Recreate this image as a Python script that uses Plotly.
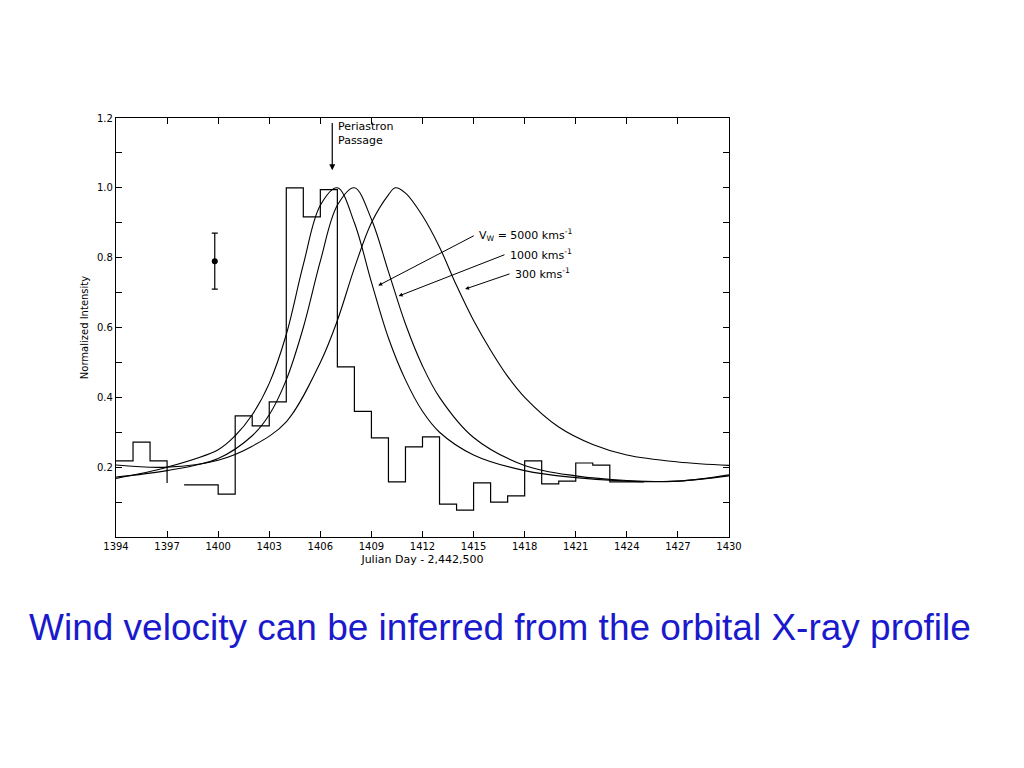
import plotly.graph_objects as go

# histogram (1-day bins), two runs of data separated by a gap
bins_a = [1394, 1395, 1396]
vals_a = [0.218, 0.272, 0.218]
end_a = 0.155  # short drop at 1397
bins_b = [1398, 1400, 1401, 1402, 1403, 1404, 1405, 1406, 1407, 1408, 1409, 1410,
          1411, 1412, 1413, 1414, 1415, 1416, 1417, 1418, 1419, 1420, 1421, 1422, 1423]
vals_b = [0.149, 0.123, 0.347, 0.318, 0.387, 1.0, 0.917, 0.995, 0.487, 0.36, 0.284, 0.158,
          0.258, 0.287, 0.094, 0.077, 0.155, 0.1, 0.118, 0.218, 0.152, 0.16, 0.212, 0.206, 0.158]
bins_b_end = 1425

# model curves
x5000 = [1394, 1397, 1400, 1401, 1402, 1403, 1404, 1405, 1406, 1407, 1408, 1409, 1410, 1411,
         1412, 1413, 1415, 1418, 1421, 1424, 1427, 1430]
y5000 = [0.168, 0.2, 0.25, 0.29, 0.35, 0.44, 0.58, 0.78, 0.95, 1.0, 0.9, 0.73, 0.57, 0.45,
         0.36, 0.3, 0.235, 0.19, 0.17, 0.16, 0.16, 0.175]
x1000 = [1394, 1397, 1400, 1402, 1403, 1404, 1405, 1406, 1407, 1408, 1409, 1410, 1411, 1412,
         1413, 1415, 1418, 1421, 1424, 1427, 1430]
y1000 = [0.172, 0.19, 0.225, 0.29, 0.35, 0.45, 0.6, 0.79, 0.95, 1.0, 0.91, 0.76, 0.61, 0.49,
         0.4, 0.285, 0.205, 0.175, 0.162, 0.16, 0.178]
x300 = [1394, 1397, 1400, 1402, 1404, 1406, 1407, 1408, 1409, 1410, 1410.4, 1411, 1412, 1413,
        1414, 1415, 1416, 1417, 1418, 1420, 1422, 1424, 1427, 1430]
y300 = [0.206, 0.2, 0.22, 0.26, 0.33, 0.5, 0.62, 0.77, 0.9, 0.98, 1.0, 0.985, 0.92, 0.83,
        0.72, 0.62, 0.535, 0.46, 0.4, 0.315, 0.265, 0.235, 0.215, 0.205]

err_x, err_y, err_d = 1399.8, 0.79, 0.08
periastron = 1406.7


def steps(lefts, vals, last_edge):
    xs, ys = [], []
    edges = lefts[1:] + [last_edge]
    for l, r, v in zip(lefts, edges, vals):
        xs += [l, r]
        ys += [v, v]
    return xs, ys


xa, ya = steps(bins_a, vals_a, 1397)
xa += [1397]; ya += [end_a]
xb, yb = steps(bins_b, vals_b, bins_b_end)

fig = go.Figure()
fig.add_trace(go.Scatter(x=xa + [None] + xb, y=ya + [None] + yb, mode="lines",
                         line=dict(color="black", width=1.2)))
for xs, ys in [(x5000, y5000), (x1000, y1000), (x300, y300)]:
    fig.add_trace(go.Scatter(x=xs, y=ys, mode="lines",
                             line=dict(color="black", width=1.1, shape="spline", smoothing=1.0)))
fig.add_trace(go.Scatter(x=[err_x], y=[err_y], mode="markers",
                         marker=dict(color="black", size=6),
                         error_y=dict(type="constant", value=err_d, color="black", thickness=1.2, width=3)))

fig.add_annotation(x=periastron, y=1.05, ax=periastron, ay=1.19, xref="x", yref="y",
                   axref="x", ayref="y", showarrow=True, arrowhead=2, arrowwidth=1.2,
                   arrowcolor="black", text="")
fig.add_annotation(x=periastron + 0.2, y=1.155, text="Periastron<br>Passage", showarrow=False,
                   xanchor="left", align="left", font=dict(size=11, color="black"))

labels = [("V<sub>W</sub> = 5000 kms<sup>-1</sup>", 1415.2, 0.865, 1409.4, 0.72),
          ("1000 kms<sup>-1</sup>", 1417.0, 0.81, 1410.6, 0.69),
          ("300 kms<sup>-1</sup>", 1417.3, 0.755, 1414.5, 0.71)]
for txt, tx, ty, px, py in labels:
    fig.add_annotation(x=px, y=py, ax=tx - 0.1, ay=ty, xref="x", yref="y", axref="x", ayref="y",
                       showarrow=True, arrowhead=2, arrowsize=0.8, arrowwidth=1,
                       arrowcolor="black", text="")
    fig.add_annotation(x=tx, y=ty, text=txt, showarrow=False, xanchor="left",
                       font=dict(size=11, color="black"))

fig.add_annotation(text="Wind velocity can be inferred from the orbital X-ray profile",
                   xref="paper", yref="paper", x=(27 - 116) / 613, y=-(627 - 537) / 419,
                   xanchor="left", yanchor="middle", showarrow=False,
                   font=dict(family="Liberation Sans, Arial", size=37, color="#1a1acc"))

axis = dict(showline=True, linecolor="black", linewidth=1.2, mirror="ticks", ticks="inside",
            ticklen=6, tickcolor="black", showgrid=False, zeroline=False,
            tickfont=dict(size=10, color="black"))
fig.update_xaxes(range=[1394, 1430], tickvals=list(range(1394, 1431, 3)),
                 title=dict(text="Julian Day - 2,442,500", font=dict(size=11), standoff=4), **axis)
fig.update_yaxes(range=[0, 1.2], tickvals=[i / 10 for i in range(1, 13)],
                 ticktext=["", "0.2", "", "0.4", "", "0.6", "", "0.8", "", "1.0", "", "1.2"],
                 title=dict(text="Normalized Intensity", font=dict(size=10), standoff=6), **axis)
fig.update_layout(width=1024, height=768, showlegend=False, plot_bgcolor="white",
                  paper_bgcolor="white",
                  margin=dict(l=108, r=303, t=110, b=239, autoexpand=False),
                  font=dict(family="DejaVu Sans", color="black"))
fig.write_html("out.html")
